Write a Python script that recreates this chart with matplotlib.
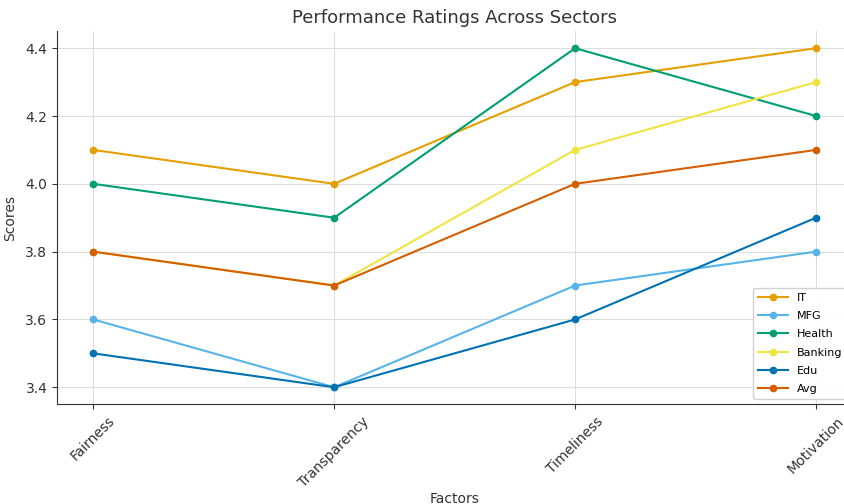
import matplotlib.pyplot as plt

factors = ["Fairness", "Transparency", "Timeliness", "Motivation"]
it = [4.1, 4.0, 4.3, 4.4]
mfg = [3.6, 3.4, 3.7, 3.8]
health = [4.0, 3.9, 4.4, 4.2]
banking = [3.8, 3.7, 4.1, 4.3]
edu = [3.5, 3.4, 3.6, 3.9]
avg = [3.8, 3.7, 4.0, 4.1]

series = [("IT", it, "#E69F00"),
          ("MFG", mfg, "#56B4E9"),
          ("Health", health, "#009E73"),
          ("Banking", banking, "#F0E442"),
          ("Edu", edu, "#0072B2"),
          ("Avg", avg, "#D55E00")]

fig = plt.figure(figsize=(8.45, 5.04), dpi=100)
ax = fig.add_axes([0.0675, 0.198, 0.941, 0.740])

for name, vals, col in series:
    ax.plot(factors, vals, marker="o", markersize=4.5, linewidth=1.5, color=col, label=name)

ax.set_yticks([3.4, 3.6, 3.8, 4.0, 4.2, 4.4])
ax.grid(True, color="#dddddd", linewidth=0.7)
ax.set_axisbelow(True)
ax.spines["top"].set_visible(False)
ax.spines["right"].set_visible(False)
ax.spines["left"].set_color("#333333")
ax.spines["bottom"].set_color("#333333")
ax.tick_params(labelsize=10, colors="#333333")
plt.setp(ax.get_xticklabels(), rotation=45, ha="center")

ax.set_title("Performance Ratings Across Sectors", fontsize=13, color="#333333")
ax.set_ylabel("Scores", fontsize=10, color="#333333", labelpad=6)
ax.set_xlabel("Factors", fontsize=10, color="#333333", labelpad=2)
ax.legend(loc="lower right", fontsize=8, framealpha=0.9,
          handlelength=2.7, labelspacing=0.75)

fig.savefig("out.png", dpi=100)
